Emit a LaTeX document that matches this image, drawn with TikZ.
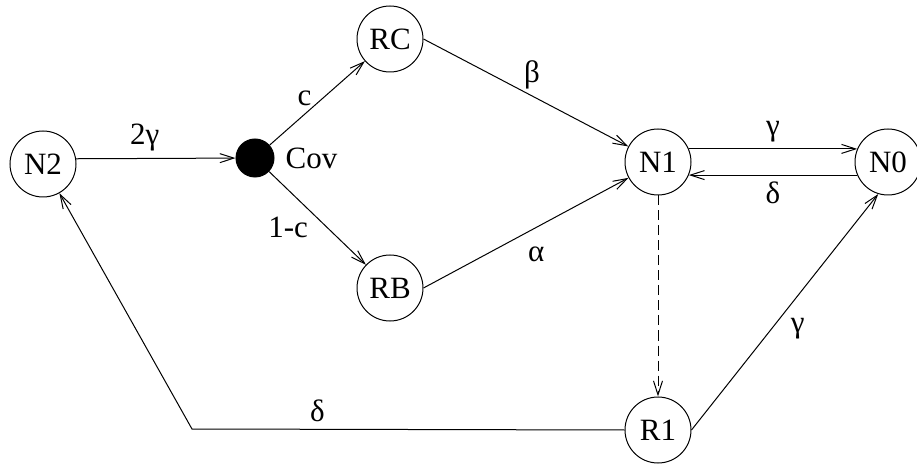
\documentclass[tikz,border=0pt]{standalone}
\usepackage{fontspec}
\setmainfont{Liberation Serif}
\usetikzlibrary{arrows.meta,positioning}

\tikzstyle{state} = [circle, draw, minimum size=33pt, inner sep=0pt]
\tikzstyle{junction} = [circle, draw, fill=black, minimum size=19pt, inner sep=0pt]
\tikzstyle{trans} = [draw, -{Straight Barb[length=7pt,width=4.5pt]}]

\begin{document}
\begin{tikzpicture}[x=0.5pt, y=-0.5pt, line width=0.5pt, font=\fontsize{15.5}{18}\selectfont]
\useasboundingbox (0,0) rectangle (917,465);
% states
\node [state] (N2) at (43,164) {N2};
\node [junction] (Cov) at (255,158) {};
\node (Cov_lab) [right=2pt of Cov] {Cov};
\node [state] (RC) at (390,39) {RC};
\node [state] (RB) at (390,288) {RB};
\node [state] (N1) at (658,162) {N1};
\node [state] (N0) at (888,162) {N0};
\node [state] (R1) at (658,430) {R1};
\coordinate (bend) at (192,429);
% transitions
\draw [trans] (N2.9) -- node [above, pos=0.43] {2γ} (Cov);
\draw [trans] (Cov) -- node [above left, pos=0.45, xshift=3pt, yshift=-3pt] {c} (RC);
\draw [trans] (Cov) -- node [left, pos=0.6, xshift=-6pt] {1-c} (RB);
\draw [trans] (RC.east) -- node [above, pos=0.53] {β} (N1);
\draw [trans] (RB.east) -- node [below=6pt, pos=0.55] {α} (N1);
\draw [trans] (N1.23) -- node [above] {γ} (N0.157);
\draw [trans] (N0.203) -- node [below] {δ} (N1.337);
\draw [trans, dash pattern=on 5pt off 2.5pt] (N1) -- (R1);
\draw [trans] (R1.east) -- node [right, pos=0.43, xshift=6pt] {γ} (N0.253);
\draw [trans] (R1.west) -- node [above, pos=0.71] {δ} (bend) -- (N2);
\end{tikzpicture}
\end{document}
